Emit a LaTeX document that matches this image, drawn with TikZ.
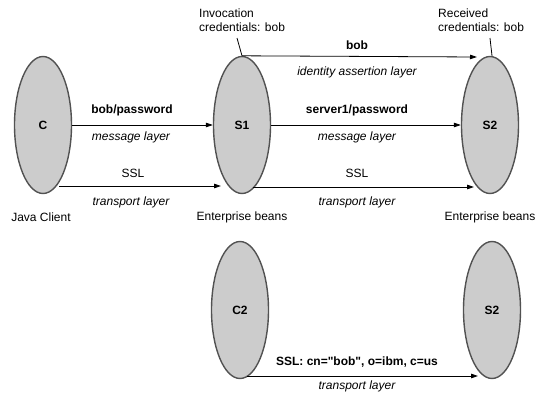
\documentclass[tikz,border=0pt]{standalone}
\usepackage{fontspec}
\setmainfont{Liberation Sans}
\usetikzlibrary{arrows.meta,shapes.geometric}
\begin{document}
\begin{tikzpicture}[x=1pt,y=-1pt,
  every node/.style={font=\fontsize{12}{14}\selectfont, inner sep=0pt},
  party/.style={ellipse, draw=black!68, line width=1.4pt, fill=black!20, minimum width=57pt, minimum height=137pt, font=\fontsize{12}{14}\selectfont\bfseries},
  msg/.style={draw=black, line width=0.8pt, -{Triangle[length=7pt,width=4.5pt]}},
  lbl/.style={font=\fontsize{12}{14}\selectfont\bfseries},
  lyr/.style={font=\fontsize{12}{14}\selectfont\itshape},
  lead/.style={draw=black, line width=0.8pt}]
\useasboundingbox (0,0) rectangle (550,405);
% parties
\node[party] (C) at (43,125) {C};
\node[party] (S1) at (242,125) {S1};
\node[party] (S2) at (490,125) {S2};
\node[party] (C2) at (240,310) {C2};
\node[party] (S2b) at (492,310) {S2};
% captions
\node (jc) at (41,217) {Java Client};
\node (eb1) at (242,217) {Enterprise beans};
\node (eb2) at (490,217) {Enterprise beans};
\node[align=left, anchor=north west] (inv) at (199,9) {Invocation\\credentials: bob};
\node[align=left, anchor=north west] (rec) at (438,9) {Received\\credentials: bob};
\draw[lead] (237,38) -- (S1.north);
\draw[lead] (490,38) -- ([xshift=2pt]S2.north);
% C -> S1
\draw[msg] (C.east) -- (S1.west);
\coordinate (cs) at (59,186);
\coordinate (ce) at (221,186);
\draw[msg] (cs) -- (ce);
\node[lbl] (l1) at (132,110) {bob/password};
\node[lyr] (l2) at (131,137) {message layer};
\node (l3) at (133,173) {SSL};
\node[lyr] (l4) at (131,202) {transport layer};
% S1 -> S2
\coordinate (te) at (477,57);
\draw[msg] (S1.north) -- (te);
\draw[msg] (S1.east) -- (S2.west);
\coordinate (ss) at (253,187);
\coordinate (se) at (474,187);
\draw[msg] (ss) -- (se);
\node[lbl] (m1) at (357,45) {bob};
\node[lyr] (m2) at (357,72) {identity assertion layer};
\node[lbl] (m3) at (357,110) {server1/password};
\node[lyr] (m4) at (357,137) {message layer};
\node (m5) at (357,173) {SSL};
\node[lyr] (m6) at (357,202) {transport layer};
% C2 -> S2
\coordinate (bs) at (247,376);
\coordinate (be) at (478,376);
\draw[msg] (bs) -- (be);
\node[lbl] (n1) at (357,362) {SSL: cn=\textquotedbl bob\textquotedbl, o=ibm, c=us};
\node[lyr] (n2) at (357,386) {transport layer};
\end{tikzpicture}
\end{document}
